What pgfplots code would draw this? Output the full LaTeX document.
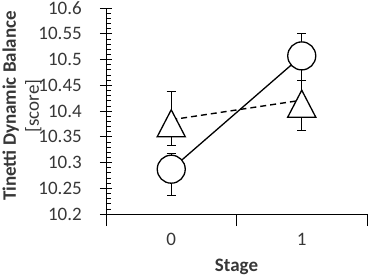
\documentclass[border=0pt]{standalone}
\usepackage{fontspec}
\setmainfont{Carlito}
\usepackage{pgfplots}
\pgfplotsset{compat=1.18}
\definecolor{txt}{RGB}{55,55,55}
\begin{document}
\begin{tikzpicture}[x=1pt,y=1pt]
\useasboundingbox (-106,-63) rectangle (262,214);
\begin{axis}[at={(0,0)}, anchor=south west, scale only axis,
  width=261pt, height=206pt,
  xmin=-0.5, xmax=1.5, ymin=10.2, ymax=10.6,
  axis x line*=bottom, axis y line*=left,
  axis line style={black, line width=0.9pt},
  font=\fontsize{19}{22}\selectfont,
  /pgf/number format/assume math mode=true,
  /pgf/number format/fixed, /pgf/number format/precision=2,
  ytick distance=0.05, minor y tick num=4,
  tick align=center, major tick length=12pt, minor tick length=5pt,
  tick style={black, line width=0.8pt},
  minor y tick style={xshift=2.5pt, line width=0.7pt},
  yticklabel style={anchor=east, inner sep=0pt, xshift=-18pt, text=txt},
  xtick={-0.5,0.5,1.5}, xticklabels={},
  x tick style={yshift=-3pt},
  major x tick style={yshift=-3pt},
  extra x ticks={0,1}, extra x tick labels={0,1},
  extra x tick style={major tick length=0pt},
  xticklabel style={anchor=center, inner sep=0pt, yshift=-25pt, text=txt},
  xlabel={\textbf{Stage}},
  xlabel style={at={(axis description cs:0.5,-0.257)}, anchor=center, text=txt},
  ylabel={\textbf{Tinetti Dynamic Balance}\\[1pt]{[score]}},
  ylabel style={at={(axis description cs:-0.322,0.524)}, anchor=center, align=center, text=txt,
    font=\fontsize{19}{22}\selectfont},
  clip=false,
]
% error bars
\addplot[only marks, mark=none, black,
  error bars/.cd, y dir=both, y explicit,
  error bar style={black, line width=0.7pt},
  error mark options={rotate=90, mark size=4.5pt, black, line width=0.7pt}]
  coordinates {(0,10.287) += (0,0.030) -= (0,0.050)
               (1,10.507) += (0,0.044) -= (0,0.047)};
\addplot[only marks, mark=none, black,
  error bars/.cd, y dir=both, y explicit,
  error bar style={black, line width=0.7pt},
  error mark options={rotate=90, mark size=4.5pt, black, line width=0.7pt}]
  coordinates {(0,10.383) += (0,0.056) -= (0,0.050)
               (1,10.421) += (0,0.039) -= (0,0.058)};
% lines
\addplot[black, line width=1.3pt, mark=none] coordinates {(0,10.287) (1,10.507)};
\addplot[black, line width=1.4pt, mark=none, dash pattern=on 6pt off 4pt] coordinates {(0,10.383) (1,10.421)};
% markers
\addplot[only marks, mark=*, mark size=14pt,
  mark options={fill=white, draw=black, line width=1.3pt}]
  coordinates {(0,10.287) (1,10.507)};
\addplot[only marks, mark=triangle*, mark size=18pt,
  mark options={fill=white, draw=black, line width=1.3pt, yshift=-8pt, xscale=0.9}]
  coordinates {(0,10.383) (1,10.421)};
\end{axis}
\end{tikzpicture}
\end{document}
